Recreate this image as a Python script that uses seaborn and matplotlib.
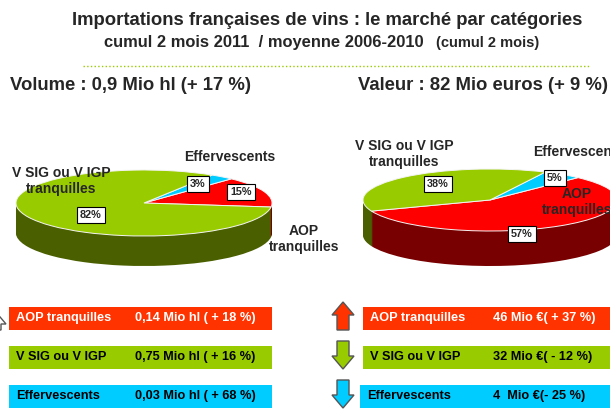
import matplotlib
matplotlib.use("Agg")
import matplotlib.pyplot as plt
from matplotlib.patches import Rectangle, Polygon
import seaborn as sns

# categories in display order (bars)
categories = ["AOP tranquilles", "V SIG ou V IGP", "Effervescents"]
pie_names = ["AOP\ntranquilles", "V SIG ou V IGP\ntranquilles", "Effervescents"]
volume_share = [15, 82, 3]
value_share = [57, 38, 5]
volume_txt = ["0,14 Mio hl ( + 18 %)", "0,75 Mio hl ( + 16 %)", "0,03 Mio hl ( + 68 %)"]
value_txt = ["46 Mio €( + 37 %)", "32 Mio €( - 12 %)", "4  Mio €(- 25 %)"]
value_trend = [1, -1, -1]

sns.set_theme(style="white")
plt.rcParams["font.family"] = ["Liberation Sans", "DejaVu Sans"]

W, H = 610, 412
colors = ["#ff0000", "#99cc00", "#00ccff"]
dark = ["#780000", "#4a6000", "#007a99"]
bar_colors = ["#ff3300", "#99cc00", "#00ccff"]
text_colors = ["white", "black", "black"]

fig = plt.figure(figsize=(6.1, 4.12), dpi=100)


def draw_pie(cx, cy, a, b, depth, shares, start):
    # pie order: AOP, Effervescents, V SIG
    order = [0, 2, 1]
    vals = [shares[i] for i in order]
    cols = [colors[i] for i in order]
    dcols = [dark[i] for i in order]
    ylo, yhi = -1 - depth / b - 0.3, 1.3
    top_px = cy - yhi * b
    h_px = (yhi - ylo) * b
    ax = fig.add_axes([(cx - 1.3 * a) / W, 1 - (top_px + h_px) / H,
                       2.6 * a / W, h_px / H])
    for k in range(depth, 0, -1):
        ax.pie(vals, colors=dcols, startangle=start, center=(0, -k / b),
               wedgeprops=dict(linewidth=0))
    ax.pie(vals, colors=cols, startangle=start,
           wedgeprops=dict(linewidth=0.7, edgecolor="#f4f4f4"))
    ax.set_aspect("auto")
    ax.set_xlim(-1.3, 1.3)
    ax.set_ylim(ylo, yhi)
    ax.axis("off")
    return ax


draw_pie(144, 203, 128, 33, 30, volume_share, -7)
draw_pie(490, 200, 127, 31, 35, value_share, 201)

ov = fig.add_axes([0, 0, 1, 1])
ov.set_xlim(0, W)
ov.set_ylim(H, 0)
ov.axis("off")
ov.patch.set_alpha(0)

# titles
ov.text(72, 20, "Importations françaises de vins : le marché par catégories",
        ha="left", va="center", fontsize=13.3, fontweight="bold")
ov.text(104, 42, "cumul 2 mois 2011  / moyenne 2006-2010", ha="left",
        va="center", fontsize=11.9, fontweight="bold")
ov.text(436, 43, "(cumul 2 mois)", ha="left", va="center", fontsize=10.5,
        fontweight="bold")
ov.plot([83, 590], [66, 66], color="#99cc00", lw=1, ls=":")
ov.text(10, 85, "Volume : 0,9 Mio hl (+ 17 %)", ha="left", va="center",
        fontsize=13.3, fontweight="bold")
ov.text(358, 85, "Valeur : 82 Mio euros (+ 9 %)", ha="left", va="center",
        fontsize=13.3, fontweight="bold")

# pie category labels
lab = dict(fontsize=10, fontweight="bold", ha="center", va="center",
           linespacing=1.2)
ov.text(61, 181, pie_names[1], **lab)
ov.text(230, 157, pie_names[2], **lab)
ov.text(304, 239, pie_names[0], **lab)
ov.text(404, 154, pie_names[1], **lab)
ov.text(533, 152, pie_names[2], **dict(lab, ha="left"))
ov.text(577, 202, pie_names[0], **lab)

# percentage boxes
box = dict(boxstyle="square,pad=0.3", fc="white", ec="black", lw=0.8)
pct_pos_vol = [(241, 192), (91, 215), (198, 184)]
pct_pos_val = [(522, 234), (438, 184), (555, 178)]
for i in range(3):
    ov.text(*pct_pos_vol[i], f"{volume_share[i]}%", ha="center", va="center",
            fontsize=7.8, fontweight="bold", bbox=box)
    ov.text(*pct_pos_val[i], f"{value_share[i]}%", ha="center", va="center",
            fontsize=7.8, fontweight="bold", bbox=box)

# category bars
bar_y = [318, 357, 396]
for i in range(3):
    y = bar_y[i]
    ov.add_patch(Rectangle((9, y - 11.5), 263, 23, color=bar_colors[i], lw=0))
    ov.text(16, y, categories[i], ha="left", va="center", fontsize=9.2,
            fontweight="bold", color=text_colors[i])
    ov.text(135, y, volume_txt[i], ha="left", va="center", fontsize=9.2,
            fontweight="bold", color=text_colors[i])
    xl = 360 if i == 2 else 363
    ov.add_patch(Rectangle((xl, y - 11.5), 610 - xl, 23, color=bar_colors[i], lw=0))
    ov.text(xl + 7, y, categories[i], ha="left", va="center", fontsize=9.2,
            fontweight="bold", color=text_colors[i])
    ov.text(493, y, value_txt[i], ha="left", va="center", fontsize=9.2,
            fontweight="bold", color=text_colors[i])


def arrow(x, ytop, ybot, up, fc):
    if up:
        pts = [(x, ytop), (x + 11, ytop + 13), (x + 6, ytop + 13), (x + 6, ybot),
               (x - 6, ybot), (x - 6, ytop + 13), (x - 11, ytop + 13)]
    else:
        pts = [(x, ybot), (x + 11, ybot - 13), (x + 6, ybot - 13), (x + 6, ytop),
               (x - 6, ytop), (x - 6, ybot - 13), (x - 11, ybot - 13)]
    ov.add_patch(Polygon(pts, closed=True, fc=fc, ec="#555555", lw=1))


arrow(-5, 311, 330, True, "white")
for i in range(3):
    y = bar_y[i]
    arrow(343, y - 16, y + 12, value_trend[i] > 0, bar_colors[i])

fig.savefig("out.png", dpi=100)
